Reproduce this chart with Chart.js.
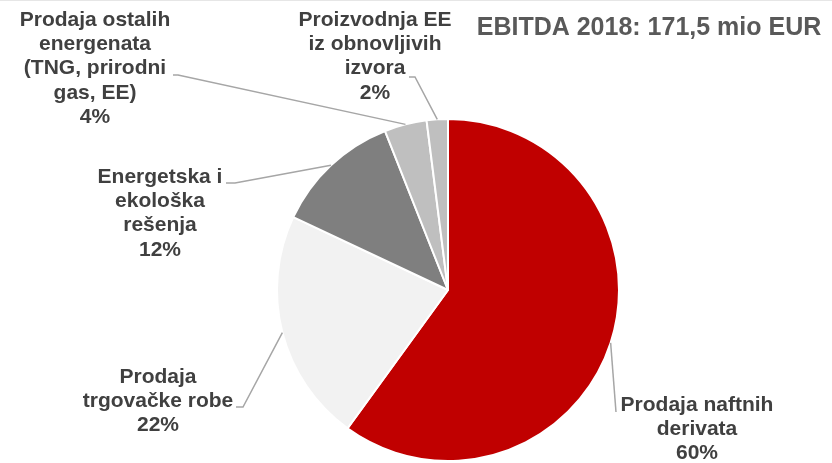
<!DOCTYPE html>
<html>
<head>
<meta charset="utf-8">
<script src="https://cdn.jsdelivr.net/npm/chart.js@4/dist/chart.umd.min.js"></script>
<style>
  html, body { margin: 0; padding: 0; background: #fff; }
  #wrap { width: 832px; height: 463px; position: relative; }
</style>
</head>
<body>
<div id="wrap"><canvas id="ebitda-pie" width="832" height="463"></canvas></div>
<script>
const categories = [
  ['Prodaja naftnih', 'derivata'],
  ['Prodaja', 'trgovačke robe'],
  ['Energetska i', 'ekološka', 'rešenja'],
  ['Prodaja ostalih', 'energenata', '(TNG, prirodni', 'gas, EE)'],
  ['Proizvodnja EE', 'iz obnovljivih', 'izvora']
];
const shares = [60, 22, 12, 4, 2];
const sliceColors = ['#C00000', '#F2F2F2', '#7F7F7F', '#BFBFBF', '#BFBFBF'];
const chartTitle = 'EBITDA 2018: 171,5 mio EUR';

// where each label sits and where its leader line bends
const labelLayout = [
  { x: 697, y: 405, ax: 616, ay: 412, kx: 616 },
  { x: 158, y: 377, ax: 236, ay: 407, kx: 243 },
  { x: 160, y: 177, ax: 226, ay: 183, kx: 235 },
  { x: 95,  y: 20,  ax: 173, ay: 75,  kx: 178 },
  { x: 375, y: 20,  ax: 409, ay: 77,  kx: 415 }
];

const pieLabels = {
  id: 'pieLabels',
  afterDraw(chart) {
    const ctx = chart.ctx;
    const arcs = chart.getDatasetMeta(0).data;
    ctx.save();
    // leader lines
    ctx.strokeStyle = '#A6A6A6';
    ctx.lineWidth = 1.5;
    arcs.forEach((arc, i) => {
      const p = arc.getProps(['x', 'y', 'startAngle', 'endAngle', 'outerRadius'], true);
      const mid = (p.startAngle + p.endAngle) / 2;
      const ex = p.x + Math.cos(mid) * p.outerRadius;
      const ey = p.y + Math.sin(mid) * p.outerRadius;
      const l = labelLayout[i];
      ctx.beginPath();
      ctx.moveTo(l.ax, l.ay);
      ctx.lineTo(l.kx, l.ay);
      ctx.lineTo(ex, ey);
      ctx.stroke();
    });
    // label text
    ctx.fillStyle = '#404040';
    ctx.font = 'bold 21px "Liberation Sans", Arial, sans-serif';
    ctx.textAlign = 'center';
    ctx.textBaseline = 'middle';
    categories.forEach((lines, i) => {
      const l = labelLayout[i];
      const all = lines.concat([shares[i] + '%']);
      all.forEach((t, j) => ctx.fillText(t, l.x, l.y + j * 24.3));
    });
    // title
    ctx.fillStyle = '#595959';
    ctx.font = 'bold 25px "Liberation Sans", Arial, sans-serif';
    ctx.fillText(chartTitle, 649, 28);
    // faint frame line at top
    ctx.strokeStyle = '#E6E6E6';
    ctx.lineWidth = 1;
    ctx.beginPath();
    ctx.moveTo(0, 0.5);
    ctx.lineTo(832, 0.5);
    ctx.stroke();
    ctx.restore();
  }
};

const ebitda_ctx = document.getElementById('ebitda-pie').getContext('2d');
const ebitdaPie = new Chart(ebitda_ctx, {
  type: 'pie',
  plugins: [pieLabels],
  data: {
    labels: categories.map(c => c.join(' ')),
    datasets: [{
      data: shares,
      backgroundColor: sliceColors,
      borderColor: '#FFFFFF',
      borderWidth: 2
    }]
  },
  options: {
    responsive: false,
    animation: false,
    radius: 171,
    layout: { padding: { left: 277, right: 213, top: 119, bottom: 2 } },
    plugins: {
      legend: { display: false },
      tooltip: { enabled: false },
      title: { display: false }
    }
  }
});
</script>
</body>
</html>
